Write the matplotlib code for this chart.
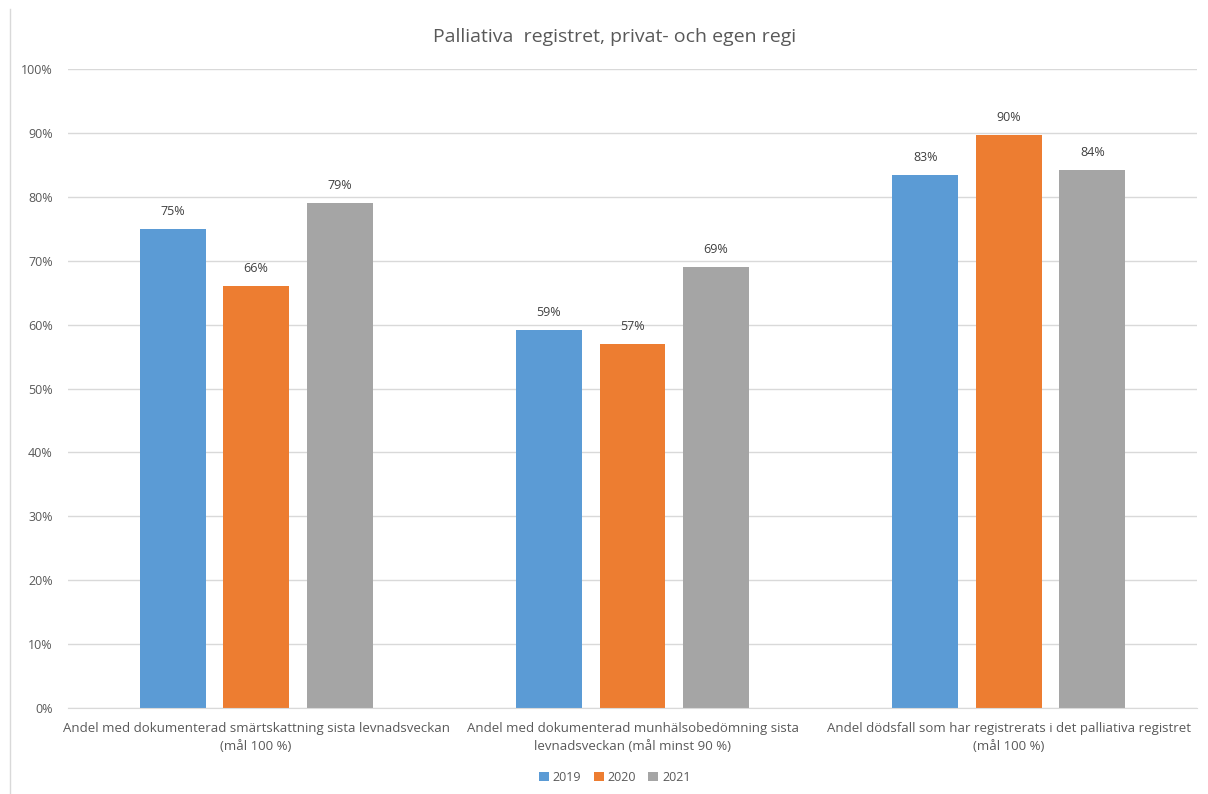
import matplotlib
matplotlib.use("Agg")
import matplotlib.pyplot as plt
import numpy as np
from matplotlib.lines import Line2D

plt.rcParams['font.family'] = ['Open Sans', 'DejaVu Sans']

categories = ["Andel med dokumenterad smärtskattning sista levnadsveckan\n(mål 100 %)",
              "Andel med dokumenterad munhälsobedömning sista\nlevnadsveckan (mål minst 90 %)",
              "Andel dödsfall som har registrerats i det palliativa registret\n(mål 100 %)"]
years = ["2019", "2020", "2021"]
v2019 = [0.75, 0.592, 0.834]
v2020 = [0.66, 0.57, 0.897]
v2021 = [0.79, 0.69, 0.842]
colors = ["#5B9BD5", "#ED7D31", "#A5A5A5"]

fig = plt.figure(figsize=(12.08, 7.94), dpi=100)
ax = fig.add_axes([0.0563, 0.1083, 0.9346, 0.8048])

x = np.arange(len(categories))
w = 0.175
off = 0.222
for i, (vals, yr) in enumerate(zip([v2019, v2020, v2021], years)):
    bars = ax.bar(x + (i - 1) * off, vals, w, color=colors[i], label=yr, zorder=3)
    for b, v in zip(bars, vals):
        ax.annotate(f"{v:.0%}", (b.get_x() + b.get_width() / 2, v), xytext=(0, 8),
                    textcoords="offset points", ha="center", va="bottom",
                    fontsize=9, color="#404040")

ax.set_xlim(-0.5, 2.5)
ax.set_ylim(0, 1)
ax.set_yticks(np.arange(0, 1.01, 0.1))
ax.set_yticklabels([f"{int(t * 100)}%" for t in np.arange(0, 1.01, 0.1)])
ax.set_xticks(x)
ax.set_xticklabels(categories, fontsize=9.5, color="#595959", linespacing=1.55)
ax.tick_params(axis='y', length=0, labelsize=9, labelcolor="#595959", pad=11)
ax.tick_params(axis='x', length=0, pad=10)
ax.grid(axis='y', color="#D9D9D9", linewidth=1, zorder=0)
for s in ["top", "right", "left"]:
    ax.spines[s].set_visible(False)
ax.spines["bottom"].set_color("#D9D9D9")
ax.spines["bottom"].set_zorder(4)

fig.text(0.509, 0.953, "Palliativa  registret, privat- och egen regi", ha="center", va="center",
         fontsize=14, color="#595959")

fig.legend(loc="center", bbox_to_anchor=(0.509, 0.021), ncol=3, frameon=False,
           fontsize=9, handlelength=0.8, handleheight=0.8, handletextpad=0.3,
           columnspacing=1.0, labelcolor="#595959")

fig.add_artist(Line2D([10 / 1208, 10 / 1208], [0, 1 - 9 / 794], transform=fig.transFigure,
                      color="#D9D9D9", linewidth=1))

fig.savefig("out.png", dpi=100)
